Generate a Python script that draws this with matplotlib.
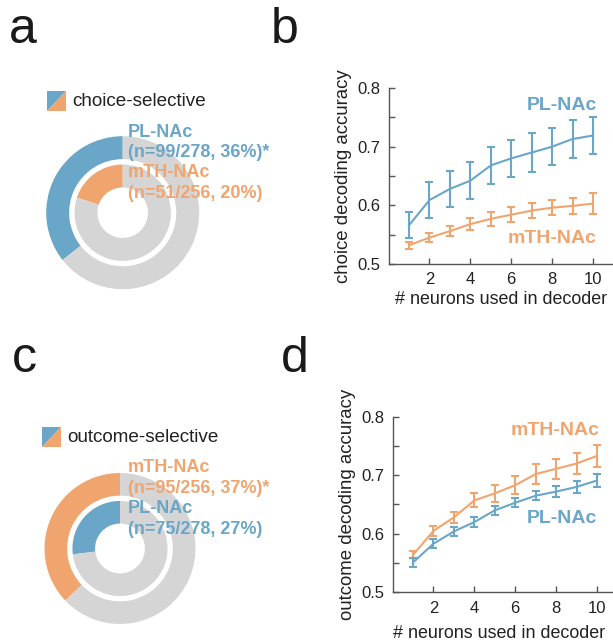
import matplotlib
matplotlib.use("Agg")
import matplotlib.pyplot as plt
from matplotlib.patches import Polygon
import numpy as np

plt.rcParams['font.family'] = ['Liberation Sans', 'DejaVu Sans']

# ---------------- data ----------------
neurons = [1, 2, 3, 4, 5, 6, 7, 8, 9, 10]

# panel b: choice decoding
choice_pl_mean = [0.566, 0.609, 0.628, 0.642, 0.668, 0.680, 0.690, 0.700, 0.713, 0.719]
choice_pl_err = [0.022, 0.031, 0.031, 0.032, 0.032, 0.032, 0.033, 0.032, 0.032, 0.031]
choice_mth_mean = [0.532, 0.545, 0.556, 0.568, 0.577, 0.584, 0.591, 0.596, 0.599, 0.603]
choice_mth_err = [0.006, 0.008, 0.009, 0.010, 0.012, 0.013, 0.013, 0.013, 0.014, 0.018]

# panel d: outcome decoding
outcome_mth_mean = [0.564, 0.605, 0.628, 0.657, 0.669, 0.683, 0.702, 0.711, 0.720, 0.733]
outcome_mth_err = [0.006, 0.009, 0.010, 0.012, 0.014, 0.015, 0.017, 0.017, 0.018, 0.019]
outcome_pl_mean = [0.551, 0.583, 0.604, 0.620, 0.640, 0.653, 0.665, 0.672, 0.680, 0.691]
outcome_pl_err = [0.007, 0.008, 0.008, 0.008, 0.008, 0.008, 0.008, 0.009, 0.010, 0.011]

# donuts: selective counts / totals
choice_pl_sel, choice_pl_total = 99, 278
choice_mth_sel, choice_mth_total = 51, 256
outcome_mth_sel, outcome_mth_total = 95, 256
outcome_pl_sel, outcome_pl_total = 75, 278

choice_labels = ["PL-NAc", "(n=99/278, 36%)*", "mTH-NAc", "(n=51/256, 20%)"]
outcome_labels = ["mTH-NAc", "(n=95/256, 37%)*", "PL-NAc", "(n=75/278, 27%)"]

yticks = [0.5, 0.6, 0.7, 0.8]
xticks = [2, 4, 6, 8, 10]

# ---------------- style ----------------
BLUE = '#6aa6c8'
ORANGE = '#f0a56f'
GRAY = '#d5d5d5'
TXT = '#222222'
SPINE = '#555555'

W, H = 613, 644
fig = plt.figure(figsize=(W / 100, H / 100), dpi=100)


def fx(x):
    return x / W


def fy(y):
    return 1 - y / H


def add_ax_px(left, top, width, height):
    return fig.add_axes([fx(left), fy(top + height), width / W, height / H])


# panel letters
for letter, x, y in [("a", 9, 43), ("b", 271, 43), ("c", 12, 372), ("d", 281, 372)]:
    fig.text(fx(x), fy(y), letter, fontsize=36, color='#1a1a1a', va='baseline', ha='left')


def donut(cx, cy, r, outer_sel, outer_tot, outer_col, inner_sel, inner_tot, inner_col):
    ax = add_ax_px(cx - r, cy - r, 2 * r, 2 * r)
    ax.pie([outer_sel, outer_tot - outer_sel], colors=[outer_col, GRAY], startangle=90,
           counterclock=True, radius=1.0, wedgeprops=dict(width=0.30, linewidth=0))
    ax.pie([inner_sel, inner_tot - inner_sel], colors=[inner_col, GRAY], startangle=90,
           counterclock=True, radius=0.63, wedgeprops=dict(width=0.30, linewidth=0))
    ax.set_xlim(-1, 1)
    ax.set_ylim(-1, 1)
    ax.set_aspect('equal')
    ax.axis('off')
    return ax


def legend_patch(x0, y0, w, h, title):
    tri1 = Polygon([[fx(x0), fy(y0)], [fx(x0 + w), fy(y0)], [fx(x0), fy(y0 + h)]],
                   closed=True, transform=fig.transFigure, facecolor=BLUE, edgecolor='none')
    tri2 = Polygon([[fx(x0 + w), fy(y0)], [fx(x0 + w), fy(y0 + h)], [fx(x0), fy(y0 + h)]],
                   closed=True, transform=fig.transFigure, facecolor=ORANGE, edgecolor='none')
    fig.add_artist(tri1)
    fig.add_artist(tri2)
    fig.text(fx(x0 + w + 6), fy(y0 + h / 2), title, fontsize=13.6, color=TXT,
             va='center', ha='left')


# ---- panel a ----
donut(122.7, 212.7, 76.5, choice_pl_sel, choice_pl_total, BLUE,
      choice_mth_sel, choice_mth_total, ORANGE)
legend_patch(47, 91, 19, 20, "choice-selective")
for txt, col, yb in zip(choice_labels, [BLUE, BLUE, ORANGE, ORANGE], [137, 157, 177, 198]):
    fig.text(fx(128), fy(yb), txt, fontsize=13, fontweight='bold', color=col,
             va='baseline', ha='left')

# ---- panel c ----
donut(120, 548.5, 75.5, outcome_mth_sel, outcome_mth_total, ORANGE,
      outcome_pl_sel, outcome_pl_total, BLUE)
legend_patch(42, 427, 19, 20, "outcome-selective")
for txt, col, yb in zip(outcome_labels, [ORANGE, ORANGE, BLUE, BLUE], [472, 493, 513, 534]):
    fig.text(fx(128), fy(yb), txt, fontsize=13, fontweight='bold', color=col,
             va='baseline', ha='left')


def line_panel(ax, series, ylabel, xlab_pos):
    for mean, err, col in series:
        ax.errorbar(neurons, mean, yerr=err, color=col, lw=1.5, elinewidth=1.5,
                    capsize=3, capthick=1.5)
    ax.set_xlim(0, 11)
    ax.set_ylim(0.5, 0.8)
    ax.set_xticks(xticks)
    ax.set_yticks(yticks)
    ax.set_yticks([0.55, 0.65, 0.75], minor=True)
    ax.set_yticklabels([f"{v:.1f}" for v in yticks])
    ax.tick_params(direction='in', length=4, width=1, color=SPINE, labelsize=12,
                   labelcolor=TXT, pad=6)
    ax.tick_params(which='minor', direction='in', length=4, width=1, color=SPINE)
    for s in ['top', 'right']:
        ax.spines[s].set_visible(False)
    for s in ['left', 'bottom']:
        ax.spines[s].set_color(SPINE)
        ax.spines[s].set_linewidth(1)
    ax.set_xlabel("# neurons used in decoder", fontsize=12.9, color=TXT)
    ax.xaxis.label.set_va('center')
    ax.xaxis.set_label_coords(*xlab_pos)
    ax.set_ylabel(ylabel, fontsize=13.4, color=TXT, labelpad=4)
    ax.patch.set_alpha(0)


# ---- panel b ----
axb = add_ax_px(388.6, 88, 224.8, 176)
line_panel(axb, [(choice_pl_mean, choice_pl_err, BLUE),
                 (choice_mth_mean, choice_mth_err, ORANGE)], "choice decoding accuracy",
           (0.502, -35 / 176))
fig.text(fx(597), fy(110), "PL-NAc", fontsize=14, fontweight='bold', color=BLUE,
         ha='right', va='baseline')
fig.text(fx(597), fy(243), "mTH-NAc", fontsize=14, fontweight='bold', color=ORANGE,
         ha='right', va='baseline')

# ---- panel d ----
axd = add_ax_px(392.6, 416.7, 224.8, 175.6)
line_panel(axd, [(outcome_mth_mean, outcome_mth_err, ORANGE),
                 (outcome_pl_mean, outcome_pl_err, BLUE)], "outcome decoding accuracy",
           (0.473, -41 / 175.6))
fig.text(fx(600), fy(435), "mTH-NAc", fontsize=14, fontweight='bold', color=ORANGE,
         ha='right', va='baseline')
fig.text(fx(597), fy(523), "PL-NAc", fontsize=14, fontweight='bold', color=BLUE,
         ha='right', va='baseline')

fig.savefig("out.png", dpi=100)
